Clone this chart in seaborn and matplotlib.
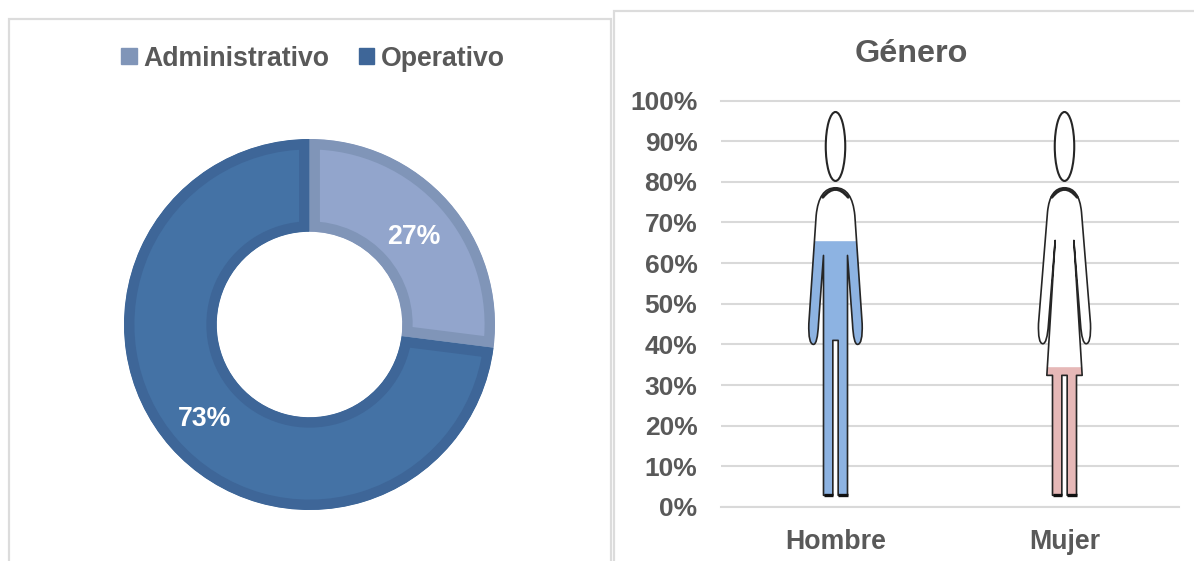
import matplotlib
matplotlib.use("Agg")
import matplotlib.pyplot as plt
import seaborn as sns
import pandas as pd
from matplotlib.patches import Rectangle, PathPatch, Ellipse, Patch
from matplotlib.path import Path

# ---- data ----
area_labels = ["Administrativo", "Operativo"]
area_values = [27, 73]
gender_labels = ["Hombre", "Mujer"]
gender_values = [65.6, 34.8]
y_ticks = list(range(0, 101, 10))
title_text = "Género"

# ---- style ----
W, H = 1194, 561
TXT = "#595959"
GRID = "#d9d9d9"
FILL = ["#92a5cc", "#4472a5"]
EDGE = ["#8095b8", "#3e6698"]
BAR = ["#8db3e2", "#e6b8b7"]

sns.set_theme(style="white")
plt.rcParams["font.family"] = ["Liberation Sans", "DejaVu Sans"]
plt.rcParams["font.weight"] = "bold"

fig = plt.figure(figsize=(W / 100, H / 100), dpi=100, facecolor="white")


def axes_px(l, t, r, b):
    return fig.add_axes([l / W, 1 - b / H, (r - l) / W, (b - t) / H])


# panel frames
for (l, t, r) in [(8.5, 19, 611), (613.5, 11, 1200)]:
    fig.add_artist(Rectangle((l / W, -0.02), (r - l) / W, 1.02 - t / H, transform=fig.transFigure,
                             facecolor="white", edgecolor="#dcdcdc", linewidth=1.6, zorder=-1))

# ---- donut ----
R = 185.5
cx, cy = 309.5, 324.5
ax1 = axes_px(cx - R, cy - R, cx + R, cy + R)
ax1.patch.set_alpha(0)
wedges, _, autotexts = ax1.pie(
    area_values, colors=FILL, startangle=90, counterclock=False, radius=1,
    wedgeprops=dict(width=0.5), autopct="%.0f%%", pctdistance=0.74,
    textprops=dict(color="white", fontsize=19.3, fontweight="bold"))
for w, e in zip(wedges, EDGE):
    w.set_edgecolor(e)
    w.set_linewidth(15)
    w.set_joinstyle("miter")
    w.set_clip_on(True)
    w.set_clip_path(w)
for t, nudge in zip(autotexts, [1.5, -1.5]):
    x, y = t.get_position()
    t.set_position((x + nudge / R, y - 3.5 / R))
ax1.set_xlim(-1, 1)
ax1.set_ylim(-1, 1)
ax1.set_aspect("equal")

handles = [Patch(facecolor=e, edgecolor=e) for e in EDGE]
fig.legend(handles, area_labels, ncol=2, loc="center", bbox_to_anchor=(313 / W, 1 - 58.5 / H),
           frameon=False, fontsize=19.2, labelcolor=TXT, handlelength=0.58, handleheight=0.58,
           handletextpad=0.25, columnspacing=1.1, borderpad=0)

# ---- pictogram bars ----
ax2 = axes_px(721, 100.5, 1179, 507)
ax2.patch.set_alpha(0)
df = pd.DataFrame({"genero": gender_labels, "valor": gender_values})
sns.barplot(data=df, x="genero", y="valor", hue="genero", palette=BAR, legend=False,
            width=0.5, ax=ax2, zorder=3, saturation=1)
ax2.set_xlim(-0.5, 1.5)
ax2.set_yticks(y_ticks)
ax2.set_yticklabels([f"{v}%" for v in y_ticks], fontsize=19, color=TXT, fontweight="bold")
ax2.set_ylim(0, 100)
ax2.set_xticks(range(len(gender_labels)))
ax2.set_xticklabels(gender_labels, fontsize=19.3, color=TXT, fontweight="bold")
ax2.set_xlabel("")
ax2.set_ylabel("")
ax2.tick_params(axis="both", length=0)
ax2.tick_params(axis="y", pad=17)
ax2.tick_params(axis="x", pad=16)
ax2.yaxis.grid(True, color=GRID, linewidth=1.5, zorder=0)
ax2.xaxis.grid(False)
ax2.set_axisbelow(True)
for s in ["right", "left"]:
    ax2.spines[s].set_visible(False)
for s in ["bottom", "top"]:
    ax2.spines[s].set_visible(True)
    ax2.spines[s].set_color(GRID)
    ax2.spines[s].set_linewidth(1.5)
ax2.set_title(title_text, fontsize=23.3, color=TXT, fontweight="bold", x=(911 - 721) / 458, y=1.0, pad=28)

M, L, C = Path.MOVETO, Path.LINETO, Path.CURVE3
male = [(M, 0, 292), (C, -50, 292), (C, -58, 375), (L, -80, 700), (C, -82, 762), (C, -66, 762),
        (C, -54, 762), (C, -51, 700), (L, -36, 495), (L, -36, 1215), (L, -8, 1215), (L, -8, 750), (L, 0, 750)]
female = [(M, 0, 292), (C, -44, 292), (C, -51, 365), (L, -78, 700), (C, -80, 760), (C, -65, 760),
          (C, -52, 760), (C, -48, 700), (L, -28, 450), (L, -53, 855), (L, -36, 855), (L, -36, 1215),
          (L, -8, 1215), (L, -8, 855), (L, 0, 855)]
PX_PER_UNIT = 229.0
DARK = "#262626"


def to_data(center, dz, zy):
    return center + dz / 3 / PX_PER_UNIT, (506.7 - (90 + zy / 3)) / 4.067


def silhouette(center, half):
    codes = [c for c, _, _ in half]
    pts = [to_data(center, x, y) for _, x, y in half]
    for i in range(len(half) - 2, -1, -1):
        _, x, y = half[i]
        pts.append(to_data(center, -x, y))
        codes.append(half[i + 1][0])
    return Path(pts, codes)


for center, shape, bar, gap_top in zip(range(2), [male, female], ax2.patches, [750, 855]):
    path = silhouette(center, shape)
    ax2.add_patch(PathPatch(path, facecolor="white", edgecolor="none", zorder=2))
    x0, y0 = to_data(center, -8, 1215)
    x1, y1 = to_data(center, 8, gap_top)
    ax2.add_patch(Rectangle((x0, y0), x1 - x0, y1 - y0, facecolor="white", edgecolor="none", zorder=2))
    clip = PathPatch(path, transform=ax2.transData, facecolor="none", edgecolor="none")
    ax2.add_patch(clip)
    bar.set_clip_path(clip)
    ax2.add_patch(PathPatch(path, facecolor="none", edgecolor=DARK, linewidth=1.2, zorder=4,
                            joinstyle="round"))
    # heavier ink on the shoulders and soles, as in the source pictogram
    arc = Path([to_data(center, -38, 320), to_data(center, 0, 273), to_data(center, 38, 320)],
               [M, C, C])
    ax2.add_patch(PathPatch(arc, facecolor="none", edgecolor=DARK, linewidth=2.2, zorder=4,
                            capstyle="round"))
    for a, b in [(-36, -8), (8, 36)]:
        fx, fy = zip(*[to_data(center, d, 1215) for d in (a, b)])
        ax2.plot(fx, fy, color="#111111", linewidth=2.4, zorder=4, solid_capstyle="butt")
    hx, hy = to_data(center, 0, 168)
    ax2.add_patch(Ellipse((hx, hy), 19.5 / PX_PER_UNIT, 69 / 4.067, facecolor="white",
                          edgecolor=DARK, linewidth=1.5, zorder=4))

fig.savefig("out.png", dpi=100)
